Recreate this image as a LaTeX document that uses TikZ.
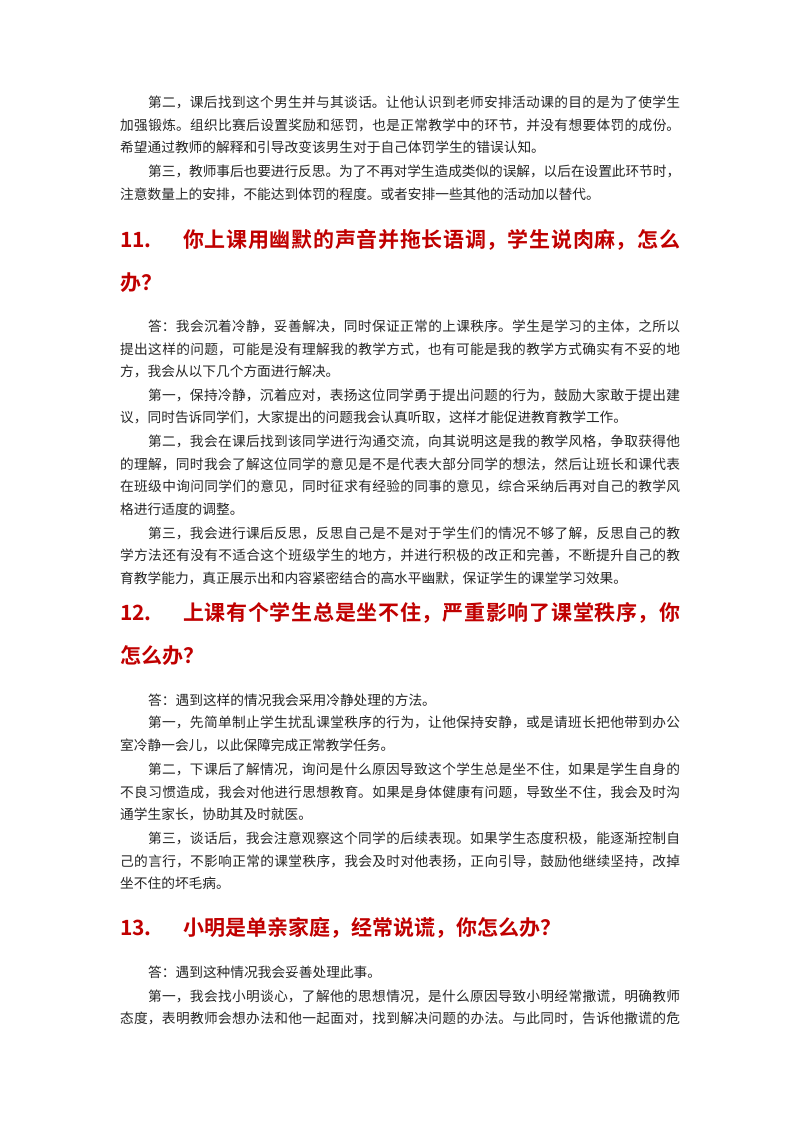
\documentclass[tikz,border=0pt]{standalone}
\usepackage{fontspec}
\setmainfont{Noto Sans CJK SC}
\newfontfamily\hfont{Noto Sans CJK SC Bold}
\XeTeXlinebreaklocale "zh"
\XeTeXlinebreakskip=0pt plus 3pt minus 0.5pt
\definecolor{hred}{RGB}{192,0,0}
\tikzset{txt/.style={inner sep=0pt,anchor=west,font=\fontsize{13.7pt}{16pt}\selectfont,text=black!85}}
\newcommand\FL[2]{\node[txt] at (120,{1132-#1}) {\parbox{560pt}{\noindent\parfillskip=0pt #2}};}
\newcommand\IL[2]{\node[txt] at (148,{1132-#1}) {\parbox{532pt}{\noindent\parfillskip=0pt #2}};}
\newcommand\LL[2]{\node[txt] at (120,{1132-#1}) {#2};}
\newcommand\IS[2]{\node[txt] at (148,{1132-#1}) {#2};}
\newcommand\HD[4]{\node[inner sep=0pt,anchor=west,text=hred,font=\hfont\fontsize{21pt}{24pt}\selectfont] at (120,{1132-#1}) {#2};
 \node[inner sep=0pt,anchor=west,text=hred,font=\hfont\fontsize{21pt}{24pt}\selectfont] at (183,{1132-#1}) {\parbox{497pt}{\noindent\parfillskip=0pt #3}};
 \node[inner sep=0pt,anchor=west,text=hred,font=\hfont\fontsize{21pt}{24pt}\selectfont] at (120,{1132-#1-43}) {#4};}
\begin{document}
\begin{tikzpicture}[x=1pt,y=1pt]
\useasboundingbox (0,0) rectangle (800,1132);
\fill[white] (0,0) rectangle (800,1132);
\IL{102}{第二，课后找到这个男生并与其谈话。让他认识到老师安排活动课的目的是为了使学生}
\FL{125}{加强锻炼。组织比赛后设置奖励和惩罚，也是正常教学中的环节，并没有想要体罚的成份。}
\LL{147}{希望通过教师的解释和引导改变该男生对于自己体罚学生的错误认知。}
\IL{171}{第三，教师事后也要进行反思。为了不再对学生造成类似的误解，以后在设置此环节时，}
\LL{194}{注意数量上的安排，不能达到体罚的程度。或者安排一些其他的活动加以替代。}
\HD{240}{11.}{你上课用幽默的声音并拖长语调，学生说肉麻，怎么}{办？}
\IL{326}{答：我会沉着冷静，妥善解决，同时保证正常的上课秩序。学生是学习的主体，之所以}
\FL{349}{提出这样的问题，可能是没有理解我的教学方式，也有可能是我的教学方式确实有不妥的地}
\LL{371}{方，我会从以下几个方面进行解决。}
\IL{395}{第一，保持冷静，沉着应对，表扬这位同学勇于提出问题的行为，鼓励大家敢于提出建}
\LL{417}{议，同时告诉同学们，大家提出的问题我会认真听取，这样才能促进教育教学工作。}
\IL{441}{第二，我会在课后找到该同学进行沟通交流，向其说明这是我的教学风格，争取获得他}
\FL{464}{的理解，同时我会了解这位同学的意见是不是代表大部分同学的想法，然后让班长和课代表}
\FL{486}{在班级中询问同学们的意见，同时征求有经验的同事的意见，综合采纳后再对自己的教学风}
\LL{509}{格进行适度的调整。}
\IL{533}{第三，我会进行课后反思，反思自己是不是对于学生们的情况不够了解，反思自己的教}
\FL{555}{学方法还有没有不适合这个班级学生的地方，并进行积极的改正和完善，不断提升自己的教}
\LL{578}{育教学能力，真正展示出和内容紧密结合的高水平幽默，保证学生的课堂学习效果。}
\HD{613}{12.}{上课有个学生总是坐不住，严重影响了课堂秩序，你}{怎么办？}
\IS{700}{答：遇到这样的情况我会采用冷静处理的方法。}
\IL{722}{第一，先简单制止学生扰乱课堂秩序的行为，让他保持安静，或是请班长把他带到办公}
\LL{745}{室冷静一会儿，以此保障完成正常教学任务。}
\IL{769}{第二，下课后了解情况，询问是什么原因导致这个学生总是坐不住，如果是学生自身的}
\FL{792}{不良习惯造成，我会对他进行思想教育。如果是身体健康有问题，导致坐不住，我会及时沟}
\LL{814}{通学生家长，协助其及时就医。}
\IL{838}{第三，谈话后，我会注意观察这个同学的后续表现。如果学生态度积极，能逐渐控制自}
\FL{861}{己的言行，不影响正常的课堂秩序，我会及时对他表扬，正向引导，鼓励他继续坚持，改掉}
\LL{883}{坐不住的坏毛病。}
\node[inner sep=0pt,anchor=west,text=hred,font=\hfont\fontsize{21pt}{24pt}\selectfont] (h13n) at (120,{1132-928}) {13.};
\node[inner sep=0pt,anchor=west,text=hred,font=\hfont\fontsize{21pt}{24pt}\selectfont] (h13) at (183,{1132-928}) {小明是单亲家庭，经常说谎，你怎么办？};
\IS{972}{答：遇到这种情况我会妥善处理此事。}
\IL{996}{第一，我会找小明谈心，了解他的思想情况，是什么原因导致小明经常撒谎，明确教师}
\FL{1018}{态度，表明教师会想办法和他一起面对，找到解决问题的办法。与此同时，告诉他撒谎的危}
\end{tikzpicture}
\end{document}
